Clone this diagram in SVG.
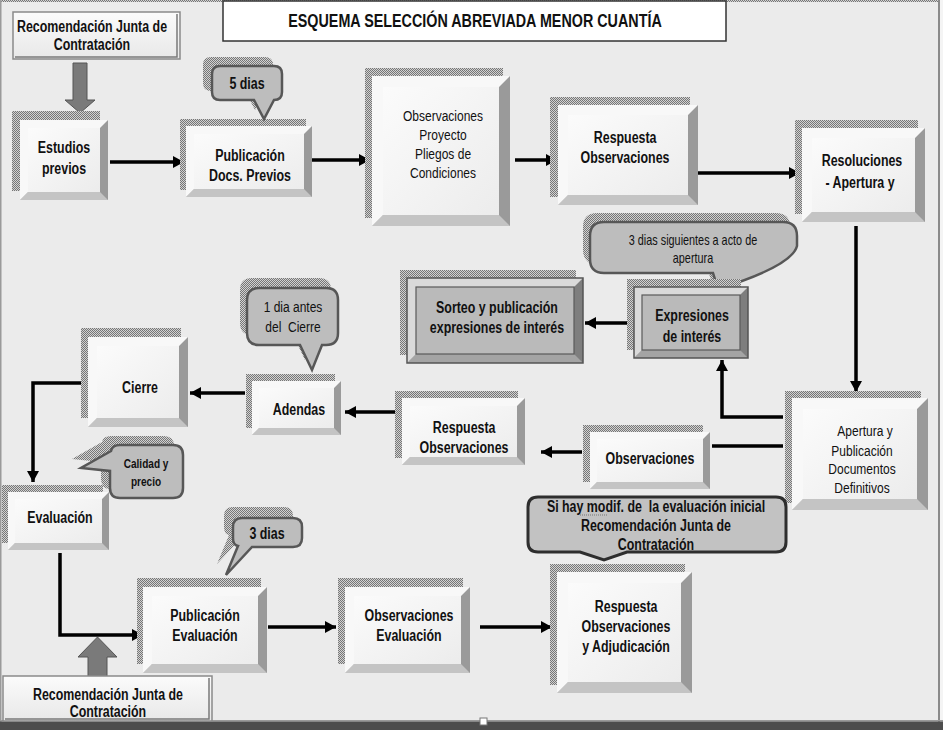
<svg xmlns="http://www.w3.org/2000/svg" width="943" height="730" viewBox="0 0 943 730">
<defs>
<pattern id="hatch" width="2" height="2" patternUnits="userSpaceOnUse">
<rect width="2" height="2" fill="#d2d2d2"/><rect width="1" height="1" fill="#767676"/><rect x="1" y="1" width="1" height="1" fill="#767676"/>
</pattern>
<linearGradient id="faceg" x1="0" y1="0" x2="1" y2="1"><stop offset="0" stop-color="#fbfbfb"/><stop offset="1" stop-color="#ececec"/></linearGradient>
<linearGradient id="recg" x1="0" y1="0" x2="0" y2="1"><stop offset="0" stop-color="#fbfbfb"/><stop offset="1" stop-color="#e8e8e8"/></linearGradient>
<marker id="ah" markerUnits="userSpaceOnUse" markerWidth="12" markerHeight="12" refX="11" refY="6" orient="auto"><path d="M0,0 L11,6 L0,12 Z" fill="#000"/></marker>
</defs>
<style>
.sh{fill:url(#hatch)}
.ob{fill:#9a9a9a}
.bb{fill:#c4c4c4}
.tb{fill:#f8f8f8}
.fc{fill:url(#faceg)}
.gob{fill:#7e7e7e}
.gbb{fill:#a4a4a4}
.gtb{fill:#dadada}
.gfc{fill:#bababa;stroke:#5a5a5a;stroke-width:1.2}
.gout{fill:none;stroke:#555;stroke-width:1.5}
.bub{fill:#bdbdbd;stroke:#575757;stroke-width:2.5}
.bubs{fill:url(#hatch)}
.rec{fill:url(#recg);stroke:#8a8a8a;stroke-width:1.5}
.recin{fill:none;stroke:#7a7a7a;stroke-width:1.5}
.fat{fill:#7a7a7a;stroke:#555;stroke-width:1}
.t{font-family:"Liberation Sans Narrow","Liberation Sans",Arial,sans-serif;font-weight:bold;font-size:16px;text-anchor:middle;fill:#111;transform-box:fill-box;transform-origin:center;transform:scaleX(0.775)}
.r{font-weight:normal;font-size:15.5px}
.s13{font-weight:normal;font-size:14px}
.s12{font-size:13px}
.ttl{font-size:18.5px}
.c{fill:none;stroke:#000;stroke-width:3.5}
.ca{fill:none;stroke:#000;stroke-width:3.5;marker-end:url(#ah)}
</style>

<!-- frame -->
<rect x="0" y="0" width="943" height="730" fill="#ebebeb"/>
<rect x="0" y="0" width="943" height="2" fill="url(#hatch)"/>
<rect x="0" y="0" width="1.5" height="722" fill="#9a9a9a"/>
<rect x="938" y="0" width="2" height="722" fill="#8a8a8a"/>
<rect x="940" y="0" width="3" height="722" fill="#f4f4f4"/>
<rect x="0" y="720" width="943" height="1.5" fill="#9a9a9a"/>
<rect x="0" y="721.5" width="943" height="8.5" fill="#4d4d4d"/>
<rect x="480" y="718" width="7" height="7" fill="#fff" stroke="#777" stroke-width="1"/>

<!-- title -->
<g id="title">
<rect x="223" y="1" width="503" height="40" fill="#fff" stroke="#333" stroke-width="1.5"/>
<text class="t ttl" x="475" y="27">ESQUEMA SELECCIÓN ABREVIADA MENOR CUANTÍA</text>
</g>

<!-- connectors -->
<g id="connectors">
<path class="ca" d="M110,162 H184"/>
<path class="ca" d="M312,160 H370"/>
<path class="ca" d="M515,160 H557"/>
<path class="ca" d="M697,173 H800"/>
<path class="ca" d="M856,226 V392"/>
<path class="ca" d="M783,417 H722 V360"/>
<path class="c" d="M783,446 H712"/>
<path class="ca" d="M632,323 H585"/>
<path class="ca" d="M582,452 H541"/>
<path class="ca" d="M395,412 H345"/>
<path class="ca" d="M245,393 H190"/>
<path class="ca" d="M85,383 H33 V482"/>
<path class="ca" d="M60,553 V635 H143"/>
<path class="ca" d="M268,627 H336"/>
<path class="ca" d="M480,627 H552"/>
<polygon id="fat-down" class="fat" points="73,63 87,63 87,100 95,100 80,113 65,100 73,100"/>
<polygon id="fat-up" class="fat" points="88,678 107,678 107,657 117,657 97.5,637 78,657 88,657"/>
</g>

<!-- nodes -->
<g id="n-rec-top">
<rect class="rec" x="13" y="12" width="167" height="47"/>
<path class="recin" d="M177,14 V57 H15"/>
<text class="t" x="92" y="32">Recomendación Junta de</text>
<text class="t" x="92" y="50">Contratación</text>
</g>

<g id="n-estudios">
<rect class="sh" x="12" y="111" width="88" height="80"/>
<rect class="ob" x="20" y="120" width="88" height="80"/>
<path class="bb" d="M20,200 H108 L100,192 H28 Z"/>
<path class="tb" d="M20,120 H108 L100,128 H28 V192 L20,200 Z"/>
<rect class="fc" x="28" y="128" width="72" height="64"/>
<text class="t" x="64" y="153">Estudios</text>
<text class="t" x="64" y="174">previos</text>
</g>

<g id="n-pub-docs">
<rect class="sh" x="180" y="119" width="126" height="71"/>
<rect class="ob" x="186" y="126" width="126" height="71"/>
<path class="bb" d="M186,197 H312 L304,189 H194 Z"/>
<path class="tb" d="M186,126 H312 L304,134 H194 V189 L186,197 Z"/>
<rect class="fc" x="194" y="134" width="110" height="55"/>
<text class="t" x="250" y="161">Publicación</text>
<text class="t" x="250" y="181">Docs. Previos</text>
</g>

<g id="b-5dias">
<path class="bubs" transform="translate(-9,-9)" d="M220,66 H274 Q282,66 282,74 V92 Q282,100 274,100 L264,119 L254,100 H220 Q212,100 212,92 V74 Q212,66 220,66 Z"/>
<path class="bub" d="M220,66 H274 Q282,66 282,74 V92 Q282,100 274,100 L264,119 L254,100 H220 Q212,100 212,92 V74 Q212,66 220,66 Z"/>
<text class="t" x="247" y="89">5 dias</text>
</g>

<g id="n-obs-proyecto">
<rect class="sh" x="365" y="68" width="138" height="150"/>
<rect class="ob" x="372" y="76" width="138" height="150"/>
<path class="bb" d="M372,226 H510 L499,215 H383 Z"/>
<path class="tb" d="M372,76 H510 L499,87 H383 V215 L372,226 Z"/>
<rect class="fc" x="383" y="87" width="116" height="128"/>
<text class="t r" x="443" y="121">Observaciones</text>
<text class="t r" x="443" y="140">Proyecto</text>
<text class="t r" x="443" y="159">Pliegos de</text>
<text class="t r" x="443" y="178">Condiciones</text>
</g>

<g id="n-resp-obs-1">
<rect class="sh" x="550" y="97" width="140" height="100"/>
<rect class="ob" x="558" y="105" width="140" height="100"/>
<path class="bb" d="M558,205 H698 L688,195 H568 Z"/>
<path class="tb" d="M558,105 H698 L688,115 H568 V195 L558,205 Z"/>
<rect class="fc" x="568" y="115" width="120" height="80"/>
<text class="t" x="625" y="143">Respuesta</text>
<text class="t" x="625" y="163">Observaciones</text>
</g>

<g id="n-resoluciones">
<rect class="sh" x="795" y="120" width="123" height="94"/>
<rect class="ob" x="802" y="128" width="123" height="94"/>
<path class="bb" d="M802,222 H925 L915,212 H812 Z"/>
<path class="tb" d="M802,128 H925 L915,138 H812 V212 L802,222 Z"/>
<rect class="fc" x="812" y="138" width="103" height="74"/>
<text class="t" x="862" y="166">Resoluciones</text>
<text class="t" x="860" y="188">- Apertura y</text>
</g>

<g id="b-3dias-sig">
<path class="bubs" transform="translate(-7,-9)" d="M604,222 H783 Q797,222 797,236 V246 Q792,266 718,289 L713,273 H604 Q590,273 590,259 V236 Q590,222 604,222 Z"/>
<path class="bub" d="M604,222 H783 Q797,222 797,236 V246 Q792,266 718,289 L713,273 H604 Q590,273 590,259 V236 Q590,222 604,222 Z"/>
<text class="t s13" x="693" y="245">3 dias siguientes a acto de</text>
<text class="t s13" x="693" y="263">apertura</text>
</g>

<g id="n-expresiones">
<rect class="sh" x="627" y="279" width="114" height="71"/>
<rect class="gob" x="634" y="287" width="114" height="71"/>
<path class="gbb" d="M634,358 H748 L740,350 H642 Z"/>
<path class="gtb" d="M634,287 H748 L740,295 H642 V350 L634,358 Z"/>
<rect class="gfc" x="642" y="295" width="98" height="55"/>
<rect class="gout" x="634" y="287" width="114" height="71"/>
<text class="t" x="692" y="321">Expresiones</text>
<text class="t" x="692" y="342">de interés</text>
</g>

<g id="n-sorteo">
<rect class="sh" x="400" y="270" width="176" height="85"/>
<rect class="gob" x="407" y="278" width="176" height="85"/>
<path class="gbb" d="M407,363 H583 L574,354 H416 Z"/>
<path class="gtb" d="M407,278 H583 L574,287 H416 V354 L407,363 Z"/>
<rect class="gfc" x="416" y="287" width="158" height="67"/>
<rect class="gout" x="407" y="278" width="176" height="85"/>
<text class="t" x="497" y="313">Sorteo y publicación</text>
<text class="t" x="497" y="333">expresiones de interés</text>
</g>

<g id="b-1dia">
<path class="bubs" transform="translate(-7,-10)" d="M259,288 H326 Q338,288 338,300 V333 Q338,345 326,345 H322 L312,370 L300,345 H259 Q247,345 247,333 V300 Q247,288 259,288 Z"/>
<path class="bub" d="M259,288 H326 Q338,288 338,300 V333 Q338,345 326,345 H322 L312,370 L300,345 H259 Q247,345 247,333 V300 Q247,288 259,288 Z"/>
<text class="t r" x="293" y="312">1 dia antes</text>
<text class="t r" x="293" y="332" xml:space="preserve">del  Cierre</text>
</g>

<g id="n-cierre">
<rect class="sh" x="81" y="328" width="100" height="90"/>
<rect class="ob" x="88" y="337" width="100" height="90"/>
<path class="bb" d="M88,427 H188 L179,418 H97 Z"/>
<path class="tb" d="M88,337 H188 L179,346 H97 V418 L88,427 Z"/>
<rect class="fc" x="97" y="346" width="82" height="72"/>
<text class="t" x="140" y="393">Cierre</text>
</g>

<g id="n-adendas">
<rect class="sh" x="246" y="374" width="89" height="54"/>
<rect class="ob" x="252" y="381" width="89" height="54"/>
<path class="bb" d="M252,435 H341 L334,428 H259 Z"/>
<path class="tb" d="M252,381 H341 L334,388 H259 V428 L252,435 Z"/>
<rect class="fc" x="259" y="388" width="75" height="40"/>
<text class="t" x="299" y="415">Adendas</text>
</g>

<g id="n-resp-obs-2">
<rect class="sh" x="395" y="391" width="123" height="67"/>
<rect class="ob" x="402" y="398" width="123" height="67"/>
<path class="bb" d="M402,465 H525 L517,457 H410 Z"/>
<path class="tb" d="M402,398 H525 L517,406 H410 V457 L402,465 Z"/>
<rect class="fc" x="410" y="406" width="107" height="51"/>
<text class="t" x="464" y="433">Respuesta</text>
<text class="t" x="464" y="453">Observaciones</text>
</g>

<g id="n-observaciones">
<rect class="sh" x="583" y="425" width="120" height="57"/>
<rect class="ob" x="590" y="432" width="120" height="57"/>
<path class="bb" d="M590,489 H710 L703,482 H597 Z"/>
<path class="tb" d="M590,432 H710 L703,439 H597 V482 L590,489 Z"/>
<rect class="fc" x="597" y="439" width="106" height="43"/>
<text class="t" x="650" y="464">Observaciones</text>
</g>

<g id="n-apertura">
<rect class="sh" x="785" y="391" width="136" height="112"/>
<rect class="ob" x="792" y="398" width="136" height="112"/>
<path class="bb" d="M792,510 H928 L917,499 H803 Z"/>
<path class="tb" d="M792,398 H928 L917,409 H803 V499 L792,510 Z"/>
<rect class="fc" x="803" y="409" width="114" height="90"/>
<text class="t r" x="865" y="436">Apertura y</text>
<text class="t r" x="862" y="456">Publicación</text>
<text class="t r" x="862" y="474">Documentos</text>
<text class="t r" x="862" y="493">Definitivos</text>
</g>

<g id="b-calidad">
<path class="bubs" transform="translate(-9,-9)" d="M120,445 H173 Q183,445 183,455 V488 Q183,498 173,498 H120 Q110,498 110,488 V471 L81,468 L111,451 Q112,445 120,445 Z"/>
<path class="bub" d="M120,445 H173 Q183,445 183,455 V488 Q183,498 173,498 H120 Q110,498 110,488 V471 L81,468 L111,451 Q112,445 120,445 Z"/>
<text class="t s12" x="146" y="468">Calidad y</text>
<text class="t s12" x="146" y="486">precio</text>
</g>

<g id="n-evaluacion">
<rect class="sh" x="2" y="485" width="101" height="58"/>
<rect class="ob" x="8" y="492" width="101" height="58"/>
<path class="bb" d="M8,550 H109 L102,543 H15 Z"/>
<path class="tb" d="M8,492 H109 L102,499 H15 V543 L8,550 Z"/>
<rect class="fc" x="15" y="499" width="87" height="44"/>
<text class="t" x="60" y="523">Evaluación</text>
</g>

<g id="b-si-hay">
<path fill="#c2c2c2" stroke="#2e2e2e" stroke-width="3" d="M538,497 H776 Q786,497 786,507 V542 Q786,552 776,552 H627 L604,560 L580,552 H538 Q528,552 528,542 V507 Q528,497 538,497 Z"/>
<text class="t" x="656" y="512" xml:space="preserve">Si hay modif. de  la evaluación inicial</text>
<line x1="580" y1="515" x2="608" y2="515" stroke="#777" stroke-width="1" stroke-dasharray="1,1"/>
<text class="t" x="656" y="531">Recomendación Junta de</text>
<text class="t" x="656" y="550">Contratación</text>
</g>

<g id="b-3dias">
<path class="bubs" transform="translate(-9,-11)" d="M242,518 H293 Q302,518 302,527 V538 Q302,547 293,547 H252 L226,575 L238,546 Q233,545 233,538 V527 Q233,518 242,518 Z"/>
<path class="bub" d="M242,518 H293 Q302,518 302,527 V538 Q302,547 293,547 H252 L226,575 L238,546 Q233,545 233,538 V527 Q233,518 242,518 Z"/>
<text class="t" x="267" y="539">3 dias</text>
</g>

<g id="n-pub-eval">
<rect class="sh" x="137" y="578" width="124" height="86"/>
<rect class="ob" x="143" y="587" width="124" height="86"/>
<path class="bb" d="M143,673 H267 L258,664 H152 Z"/>
<path class="tb" d="M143,587 H267 L258,596 H152 V664 L143,673 Z"/>
<rect class="fc" x="152" y="596" width="106" height="68"/>
<text class="t" x="205" y="621">Publicación</text>
<text class="t" x="205" y="641">Evaluación</text>
</g>

<g id="n-obs-eval">
<rect class="sh" x="338" y="578" width="125" height="86"/>
<rect class="ob" x="345" y="587" width="125" height="86"/>
<path class="bb" d="M345,673 H470 L461,664 H354 Z"/>
<path class="tb" d="M345,587 H470 L461,596 H354 V664 L345,673 Z"/>
<rect class="fc" x="354" y="596" width="107" height="68"/>
<text class="t" x="409" y="621">Observaciones</text>
<text class="t" x="409" y="641">Evaluación</text>
</g>

<g id="n-resp-adj">
<rect class="sh" x="550" y="564" width="135" height="121"/>
<rect class="ob" x="557" y="572" width="135" height="121"/>
<path class="bb" d="M557,693 H692 L681,682 H568 Z"/>
<path class="tb" d="M557,572 H692 L681,583 H568 V682 L557,693 Z"/>
<rect class="fc" x="568" y="583" width="113" height="99"/>
<text class="t" x="626" y="612">Respuesta</text>
<text class="t" x="626" y="632">Observaciones</text>
<text class="t" x="626" y="652">y Adjudicación</text>
</g>

<g id="n-rec-bottom">
<rect class="rec" x="3" y="676" width="209" height="45"/>
<path class="recin" d="M209,678 V719 H5"/>
<text class="t" x="108" y="700">Recomendación Junta de</text>
<text class="t" x="108" y="717">Contratación</text>
</g>
</svg>
